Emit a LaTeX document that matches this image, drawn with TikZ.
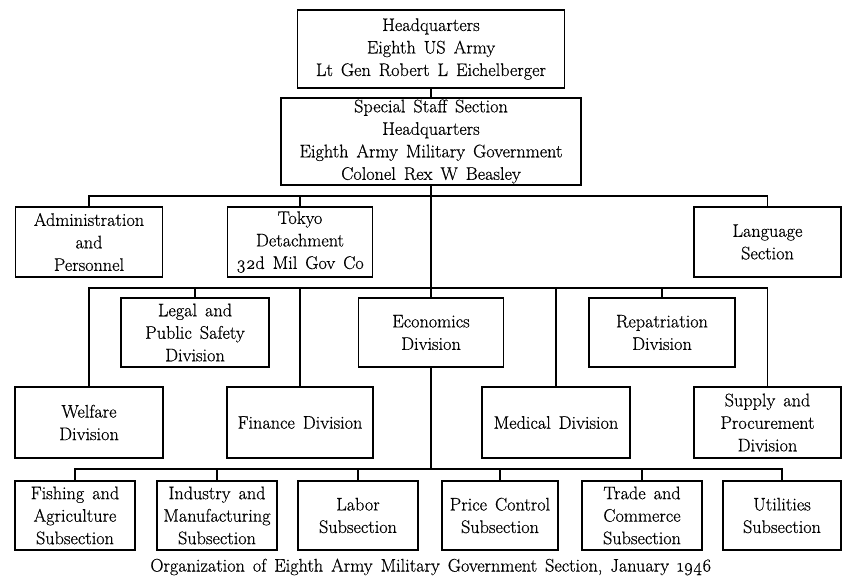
\documentclass[tikz,border=0pt]{standalone}
\usepackage{fontspec}
\newfontfamily\orgfam{Latin Modern Roman}[FakeBold=0.5]
\newcommand\orgfont{\orgfam\fontsize{18.2}{22.5}\selectfont\spaceskip=8pt plus 2pt minus 1pt\relax}
\begin{document}
\begin{tikzpicture}[x=1pt,y=-1pt,
  box/.style={draw, line width=1.3pt, align=center, inner sep=1pt, font=\orgfont},
  conn/.style={line width=1.3pt}]
\useasboundingbox[fill=white] (0,0) rectangle (842,582);
% top
\node[box, minimum width=267pt, minimum height=78pt] (hq) at (431,49) {Headquarters\\Eighth US Army\\Lt Gen Robert L Eichelberger};
\node[box, minimum width=300pt, minimum height=87pt] (ss) at (431,141.5) {Special Staff Section\\Headquarters\\Eighth Army Military Government\\Colonel Rex W Beasley};
% row 1
\node[box, minimum width=147pt, minimum height=70pt] (admin) at (89,242) {Administration\\and\\Personnel};
\node[box, minimum width=145pt, minimum height=70pt] (tokyo) at (300,242) {Tokyo\\Detachment\\\oldstylenums{32}d Mil Gov Co};
\node[box, minimum width=147pt, minimum height=70pt] (lang) at (767.5,242) {Language\\Section};
% row 2
\node[box, minimum width=148pt, minimum height=69pt] (legal) at (195,332.5) {Legal and\\Public Safety\\Division};
\node[box, minimum width=145pt, minimum height=69pt] (econ) at (431,332.5) {Economics\\Division};
\node[box, minimum width=146pt, minimum height=69pt] (repat) at (662,332.5) {Repatriation\\Division};
% row 3
\node[box, minimum width=148pt, minimum height=71pt] (welfare) at (89,422.5) {Welfare\\Division};
\node[box, minimum width=146pt, minimum height=71pt] (finance) at (300,422.5) {Finance Division};
\node[box, minimum width=148pt, minimum height=71pt] (medical) at (556,422.5) {Medical Division};
\node[box, minimum width=147pt, minimum height=71pt] (supply) at (767.5,422.5) {Supply and\\Procurement\\Division};
% row 4
\node[box, minimum width=120pt, minimum height=69pt] (fish) at (75,515.5) {Fishing and\\Agriculture\\Subsection};
\node[box, minimum width=120pt, minimum height=69pt] (ind) at (217,515.5) {Industry and\\Manufacturing\\Subsection};
\node[box, minimum width=120pt, minimum height=69pt] (labor) at (358,515.5) {Labor\\Subsection};
\node[box, minimum width=116pt, minimum height=69pt] (price) at (500,515.5) {Price Control\\Subsection};
\node[box, minimum width=120pt, minimum height=69pt] (trade) at (642,515.5) {Trade and\\Commerce\\Subsection};
\node[box, minimum width=118pt, minimum height=69pt] (util) at (782,515.5) {Utilities\\Subsection};
% caption
\node[font=\orgfont] (cap) at (431,567) {Organization of Eighth Army Military Government Section, January \oldstylenums{1946}};
% bus coordinates
\coordinate (b1) at (431,196);
\coordinate (b2) at (431,288);
\coordinate (b3) at (431,469);
% connectors
\draw[conn] (hq) -- (ss);
\draw[conn] (ss) -- (econ);
\draw[conn] (admin.north) |- (b1) -| (lang.north);
\draw[conn] (tokyo.north) -- (tokyo.north |- b1);
\draw[conn] (welfare.north) |- (b2) -| (supply.north);
\draw[conn] (legal.north) -- (legal.north |- b2);
\draw[conn] (finance.north) -- (finance.north |- b2);
\draw[conn] (medical.north) -- (medical.north |- b2);
\draw[conn] (repat.north) -- (repat.north |- b2);
\draw[conn] (econ) -- (b3);
\draw[conn] (fish.north) |- (b3) -| (util.north);
\foreach \n in {ind,labor,price,trade} {\draw[conn] (\n.north) -- (\n.north |- b3);}
\end{tikzpicture}
\end{document}
